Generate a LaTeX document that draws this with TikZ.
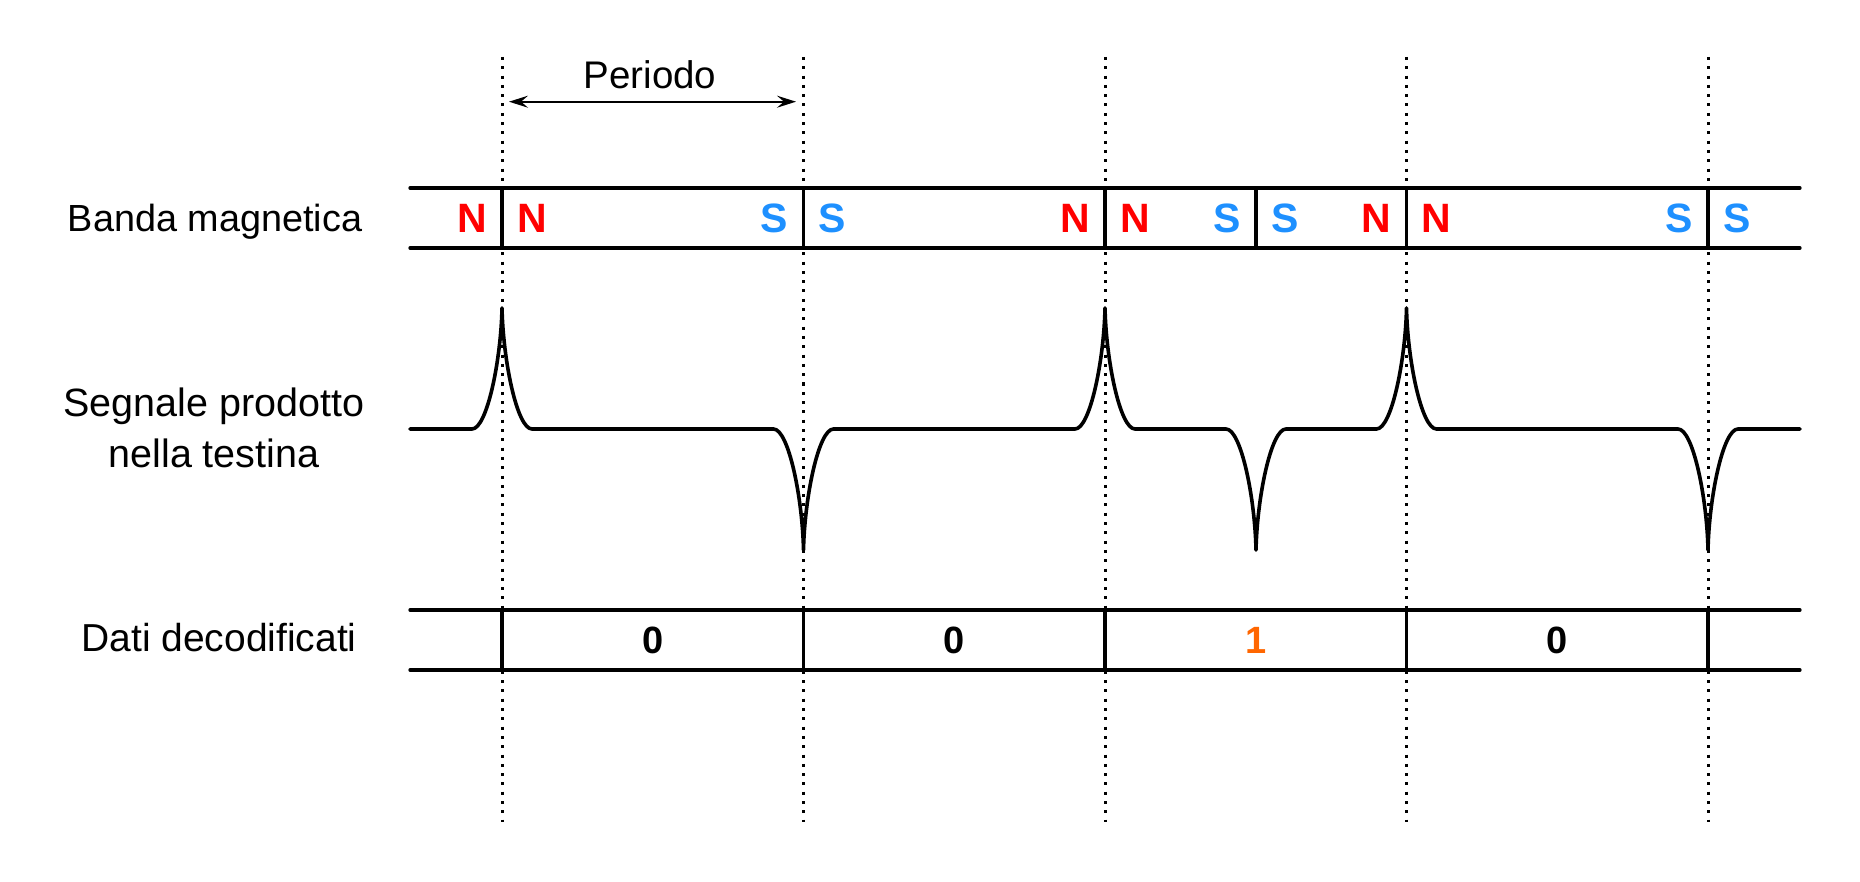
\documentclass[tikz,border=0pt]{standalone}
\usepackage{fontspec}
\setmainfont{Liberation Sans}
\usetikzlibrary{arrows.meta}
\definecolor{nred}{RGB}{255,0,0}
\definecolor{sblue}{RGB}{30,144,255}
\definecolor{onecol}{RGB}{255,102,0}
% bump of the head signal: #1 = x of the cusp, #2 = height (positive = up)
\newcommand{\sigbump}[2]{-- ({#1-30},429) .. controls ({#1-15},429) and ({#1-1},{429-0.57*(#2)}) .. (#1,{429-(#2)}) .. controls ({#1+1},{429-0.57*(#2)}) and ({#1+15},429) .. ({#1+30},429)}
\begin{document}
\begin{tikzpicture}[x=1pt,y=-1pt,
  solid line/.style={line width=3.3pt,line cap=round},
  sep line/.style={line width=3.3pt},
  grid line/.style={line width=3pt,dash pattern=on 3pt off 6.3pt},
  sig line/.style={line width=3.6pt,line join=round,line cap=round},
  lab/.style={font=\fontsize{38}{44}\selectfont,inner sep=0pt,anchor=base},
  pole/.style={font=\fontsize{41}{41}\selectfont\bfseries,inner sep=0pt},
  npole/.style={pole,text=nred},
  spole/.style={pole,text=sblue},
  bit/.style={font=\fontsize{38}{38}\selectfont\bfseries,inner sep=0pt,anchor=base}]
\useasboundingbox (0,0) rectangle (1860,882);

% boundaries
\foreach \i/\x in {0/502,1/803.5,2/1105,3/1406.5,4/1708}{
  \coordinate (gt\i) at (\x,57);
  \coordinate (gb\i) at (\x,822);
  \draw[grid line] (gt\i) -- (gb\i);
}

% period arrow
\coordinate (pa) at (509,101.7);
\coordinate (pb) at (796,101.7);
\draw[line width=1.8pt,{Stealth[length=19pt,width=12pt,inset=7pt]}-{Stealth[length=19pt,width=12pt,inset=7pt]}] (pa) -- (pb);
\node[lab,font=\fontsize{38.5}{44}\selectfont] (periodo) at (650,88.3) {Periodo};

% row labels
\node[lab,font=\fontsize{37.8}{44}\selectfont] (banda) at (215,231.7) {Banda magnetica};
\node[lab,font=\fontsize{39.5}{44}\selectfont] (seg1) at (214,416) {Segnale prodotto};
\node[lab,font=\fontsize{39.5}{44}\selectfont] (seg2) at (214,467.3) {nella testina};
\node[lab,font=\fontsize{39}{44}\selectfont] (dati) at (219,651.7) {Dati decodificati};

% magnetic tape
\coordinate (mtl) at (410,188); \coordinate (mtr) at (1800,188);
\coordinate (mbl) at (410,248); \coordinate (mbr) at (1800,248);
\draw[solid line] (mtl) -- (mtr);
\draw[solid line] (mbl) -- (mbr);
\foreach \i/\x/\p/\s in {0/502/N/npole,1/803.5/S/spole,2/1105/N/npole,5/1256/S/spole,3/1406.5/N/npole,4/1708/S/spole}{
  \coordinate (st\i) at (\x,188);
  \coordinate (sb\i) at (\x,248);
  \draw[sep line] (st\i) -- (sb\i);
  \node[\s,anchor=east] (pl\i) at ({\x-15},218) {\p};
  \node[\s,anchor=west] (pr\i) at ({\x+15},218) {\p};
}

% head signal
\coordinate (sl) at (410,429);
\coordinate (sr) at (1800,429);
\draw[sig line] (sl) \sigbump{502}{121} \sigbump{803.5}{-121} \sigbump{1105}{121} \sigbump{1256}{-121} \sigbump{1406.5}{121} \sigbump{1708}{-121} -- (sr);

% decoded data
\coordinate (dtl) at (410,610); \coordinate (dtr) at (1800,610);
\coordinate (dbl) at (410,670); \coordinate (dbr) at (1800,670);
\draw[solid line] (dtl) -- (dtr);
\draw[solid line] (dbl) -- (dbr);
\foreach \i/\x in {0/502,1/803.5,2/1105,3/1406.5,4/1708}{
  \coordinate (dt\i) at (\x,610);
  \coordinate (db\i) at (\x,670);
  \draw[sep line] (dt\i) -- (db\i);
}
\node[bit] (b0) at (652.75,653.7) {0};
\node[bit] (b1) at (954.25,653.7) {0};
\node[bit,text=onecol] (b2) at (1255.75,653.7) {1};
\node[bit] (b3) at (1557.25,653.7) {0};
\end{tikzpicture}
\end{document}
